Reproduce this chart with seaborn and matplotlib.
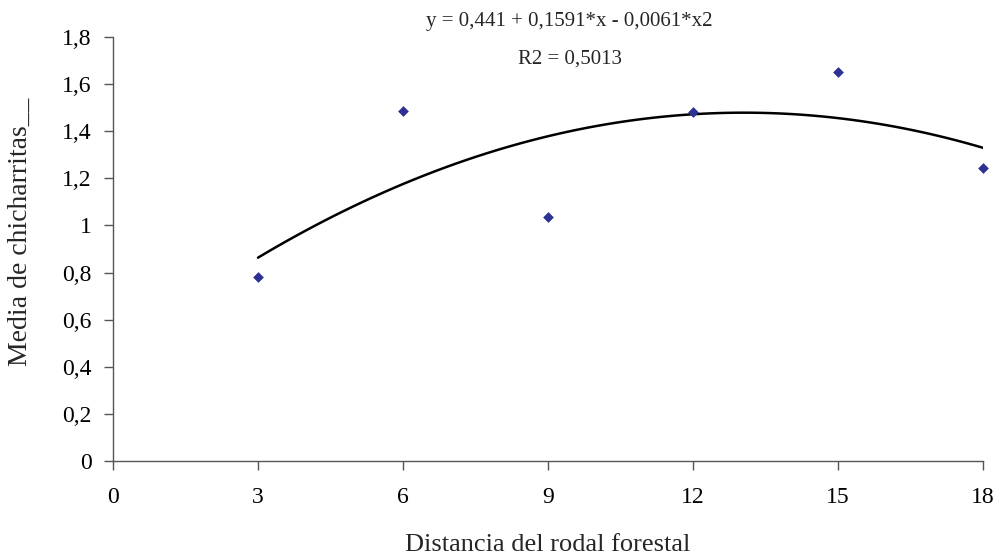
import matplotlib
matplotlib.use("Agg")
import matplotlib.pyplot as plt
import seaborn as sns
import pandas as pd
from matplotlib.ticker import FuncFormatter

distancia = [3, 6, 9, 12, 15, 18]
media = [0.78, 1.485, 1.035, 1.48, 1.65, 1.245]
x_ticks = [0, 3, 6, 9, 12, 15, 18]
y_ticks = [0, 0.2, 0.4, 0.6, 0.8, 1.0, 1.2, 1.4, 1.6, 1.8]
eq_text = "y = 0,441 + 0,1591*x - 0,0061*x2"
r2_text = "R2 = 0,5013"

sns.set_style("ticks")
plt.rcParams['font.family'] = ['Liberation Serif', 'DejaVu Serif']

df = pd.DataFrame({"x": distancia, "y": media})

fig = plt.figure(figsize=(10.01, 5.56), dpi=100)
ax = fig.add_axes([113/1001, 1 - 461/556, (983-113)/1001, (461-37)/556])

sns.regplot(data=df, x="x", y="y", order=2, ci=None, truncate=True, ax=ax,
            marker="D",
            scatter_kws=dict(color="#2e3192", s=30, linewidths=0, alpha=1,
                             clip_on=False, zorder=3),
            line_kws=dict(color="black", lw=1.8))

ax.set_xlim(0, 18)
ax.set_ylim(0, 1.8)
ax.set_xticks(x_ticks)
ax.set_yticks(y_ticks)
fmt = FuncFormatter(lambda v, p: (f"{v:.1f}".rstrip("0").rstrip(".") if v != 0 else "0").replace(".", ","))
ax.yaxis.set_major_formatter(fmt)
ax.xaxis.set_major_formatter(FuncFormatter(lambda v, p: f"{int(round(v))}"))
ax.tick_params(axis="both", labelsize=17, length=6.5, width=1, color="#555555",
               labelcolor="black")
ax.tick_params(axis="y", pad=9)
ax.tick_params(axis="x", pad=12)
for s in ["top", "right"]:
    ax.spines[s].set_visible(False)
for s in ["left", "bottom"]:
    ax.spines[s].set_color("#555555")
    ax.spines[s].set_linewidth(1)

ax.set_xlabel("Distancia del rodal forestal", fontsize=19)
ax.set_ylabel("Media de chicharritas__", fontsize=20)
ax.xaxis.set_label_coords(0.5, -0.172)
ax.yaxis.set_label_coords(-0.092, 0.54)

ax.text(9.45, 1.865, eq_text, ha="center", va="center", fontsize=15, clip_on=False)
ax.text(9.45, 1.708, r2_text, ha="center", va="center", fontsize=15, clip_on=False)

fig.savefig("out.png", dpi=100)
